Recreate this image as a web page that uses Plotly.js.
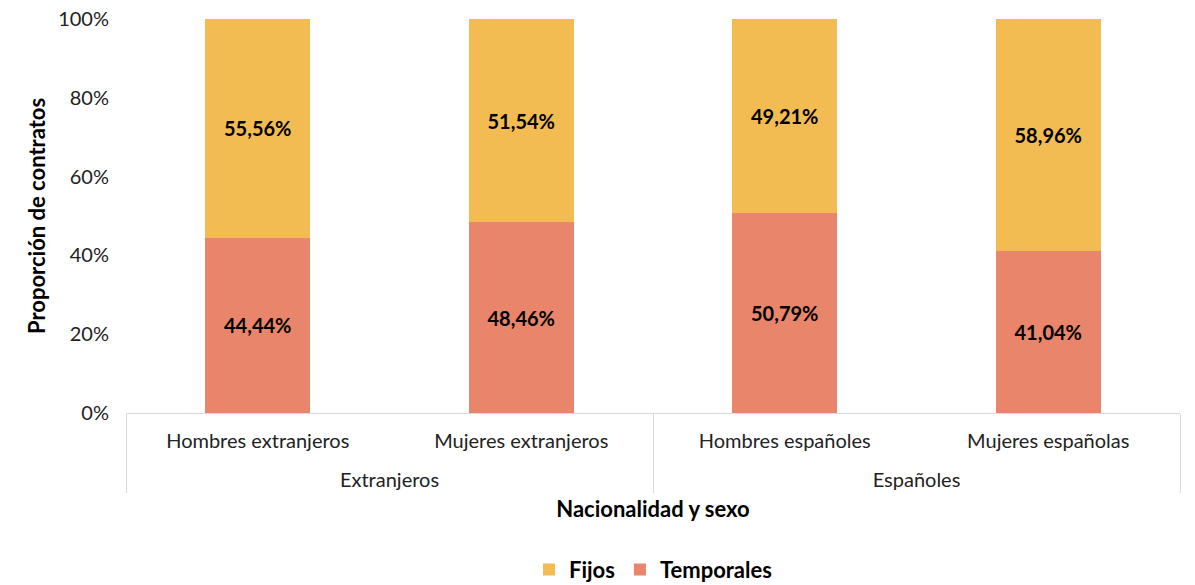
<!DOCTYPE html>
<html>
<head>
<meta charset="utf-8">
<script src="https://cdn.plot.ly/plotly-3.0.1.min.js"></script>
<style>html,body{margin:0;padding:0;background:#fff;}#chart{width:1195px;height:585px;}</style>
</head>
<body>
<div id="chart"></div>
<script>
var categories = ['Hombres extranjeros', 'Mujeres extranjeros', 'Hombres españoles', 'Mujeres españolas'];
var groups = ['Extranjeros', 'Españoles'];
var groupCenters = [0.5, 2.5];
var groupBounds = [-0.5, 1.5, 3.5];
var temporales = [44.44, 48.46, 50.79, 41.04];
var fijos = [55.56, 51.54, 49.21, 58.96];
var yTicks = [0, 20, 40, 60, 80, 100];
var yTickText = yTicks.map(function (v) { return v + '%'; });

var FONT = 'Lato, "Open Sans", sans-serif';
var GRID = '#d9d9d9';

var traces = [
  {
    type: 'bar', name: 'Temporales',
    x: categories, y: temporales,
    marker: {color: '#E8856A'},
    texttemplate: '%{y:.2f}%', textposition: 'inside', insidetextanchor: 'middle',
    textfont: {family: FONT, size: 20, color: '#000', weight: 'bold'},
    hoverinfo: 'skip'
  },
  {
    type: 'bar', name: 'Fijos',
    x: categories, y: fijos,
    marker: {color: '#F2BC52'},
    texttemplate: '%{y:.2f}%', textposition: 'inside', insidetextanchor: 'middle',
    textfont: {family: FONT, size: 20, color: '#000', weight: 'bold'},
    hoverinfo: 'skip'
  },
  // carriers for the group-label axis and the divider axis (draw nothing)
  {type: 'scatter', mode: 'none', x: groupCenters, y: [0, 0], xaxis: 'x2', yaxis: 'y', showlegend: false, hoverinfo: 'skip'},
  {type: 'scatter', mode: 'none', x: groupBounds, y: [0, 0, 0], xaxis: 'x3', yaxis: 'y', showlegend: false, hoverinfo: 'skip'}
];

var layout = {
  width: 1195, height: 585,
  margin: {l: 126, r: 15, t: 19, b: 172},
  paper_bgcolor: '#fff', plot_bgcolor: '#fff',
  font: {family: FONT, size: 20, color: '#222'},
  separators: ',.',
  barmode: 'stack',
  bargap: 0.6,
  showlegend: true,
  legend: {
    orientation: 'h', traceorder: 'reversed',
    xref: 'paper', x: 0.5, xanchor: 'center',
    yref: 'container', y: 0.026, yanchor: 'middle',
    font: {family: FONT, size: 22, color: '#000', weight: 'bold'},
    itemwidth: 30
  },
  xaxis: {
    type: 'category', automargin: false,
    showline: true, linecolor: GRID, linewidth: 1,
    showgrid: false, ticks: '',
    ticklabelstandoff: 10,
    tickfont: {family: FONT, size: 20, color: '#222'}
  },
  xaxis2: {
    overlaying: 'x', anchor: 'y', side: 'bottom', automargin: false,
    range: [-0.5, 3.5], tickvals: groupCenters, ticktext: groups,
    showline: false, showgrid: false, zeroline: false, ticks: '',
    ticklabelstandoff: 53,
    tickfont: {family: FONT, size: 20, color: '#222'},
    title: {text: 'Nacionalidad y sexo', font: {family: FONT, size: 22, color: '#000', weight: 'bold'}, standoff: 11}
  },
  xaxis3: {
    overlaying: 'x', anchor: 'y', side: 'bottom', automargin: false,
    range: [-0.5, 3.5], tickvals: groupBounds,
    showline: false, showgrid: false, zeroline: false, showticklabels: false,
    ticks: 'outside', ticklen: 79, tickcolor: GRID, tickwidth: 1
  },
  yaxis: {
    range: [0, 100], tickvals: yTicks, ticktext: yTickText, automargin: false,
    showgrid: false, zeroline: false, showline: false, ticks: '',
    ticklabelstandoff: 16,
    tickfont: {family: FONT, size: 20, color: '#222'},
    title: {text: 'Proporción de contratos', font: {family: FONT, size: 22, color: '#000', weight: 'bold'}, standoff: 6}
  }
};

Plotly.newPlot('chart', traces, layout, {displayModeBar: false, staticPlot: true});
</script>
</body>
</html>
